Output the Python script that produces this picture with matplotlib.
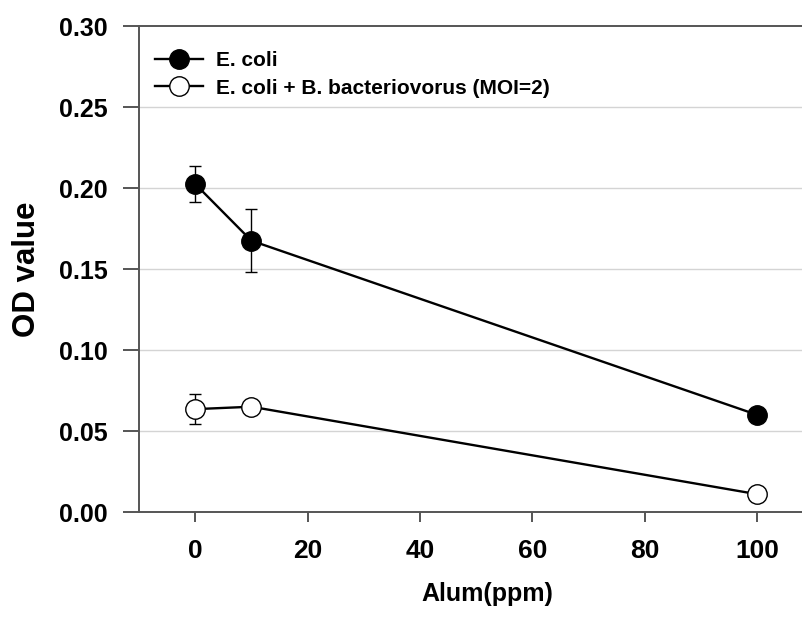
import matplotlib
matplotlib.use("Agg")
import matplotlib.pyplot as plt

plt.rcParams['font.family'] = ['Liberation Sans', 'DejaVu Sans']
plt.rcParams['font.weight'] = 'bold'

# data
alum = [0, 10, 100]
ecoli = [0.2025, 0.1675, 0.060]
ecoli_err = [0.011, 0.0195, 0.0]
ecoli_bd = [0.0635, 0.065, 0.011]
ecoli_bd_err = [0.0092, 0.0, 0.0]

y_ticks = [0.00, 0.05, 0.10, 0.15, 0.20, 0.25, 0.30]
x_ticks = [0, 20, 40, 60, 80, 100]

axis_col = '#555555'

fig = plt.figure(figsize=(8.02, 6.21), dpi=100)
ax = fig.add_axes([0.1733, 0.1755, 0.8267, 0.7826])

# light grid lines
for yv in y_ticks[1:-1]:
    ax.axhline(yv, color='#d4d4d4', lw=1.0, zorder=0)

# error bars first, then the lines with markers on top
ax.errorbar(alum, ecoli, yerr=ecoli_err, fmt='none', ecolor='black',
            elinewidth=1.0, capsize=4, capthick=1.0, zorder=2)
ax.errorbar(alum, ecoli_bd, yerr=ecoli_bd_err, fmt='none', ecolor='black',
            elinewidth=1.0, capsize=4, capthick=1.0, zorder=2)
ax.plot(alum, ecoli, color='black', lw=1.7, marker='o', ms=14,
        mfc='black', mec='black', label='E. coli', zorder=3)
ax.plot(alum, ecoli_bd, color='black', lw=1.7, marker='o', ms=14,
        mfc='white', mec='black', mew=1.0,
        label='E. coli + B. bacteriovorus (MOI=2)', zorder=3)

ax.set_xlim(-10, 108)
ax.set_ylim(0, 0.30)
ax.set_xticks(x_ticks)
ax.set_yticks(y_ticks)
ax.set_yticklabels(['%.2f' % v for v in y_ticks])

for s in ['left', 'bottom', 'top']:
    ax.spines[s].set_color(axis_col)
    ax.spines[s].set_linewidth(1.4)
ax.spines['right'].set_visible(False)

ax.tick_params(axis='y', direction='out', length=11.5, width=1.4,
               color=axis_col, pad=11, labelsize=18)
ax.tick_params(axis='x', direction='out', length=7.2, width=1.4,
               color=axis_col, pad=12, labelsize=19)
for lab in ax.get_xticklabels() + ax.get_yticklabels():
    lab.set_fontweight('bold')

ax.set_xlabel('Alum(ppm)', fontsize=18, fontweight='bold')
ax.xaxis.set_label_coords(0.525, -0.145)
ax.set_ylabel('OD value', fontsize=22.5, fontweight='bold')
ax.yaxis.set_label_coords(-0.147, 0.499)

leg = ax.legend(loc='upper left', bbox_to_anchor=(0.024, 0.948), frameon=False,
                prop={'size': 15, 'weight': 'bold'}, handlelength=2.3,
                handletextpad=0.62, labelspacing=0.4, borderaxespad=0,
                borderpad=0)

fig.savefig('out.png', dpi=100)
